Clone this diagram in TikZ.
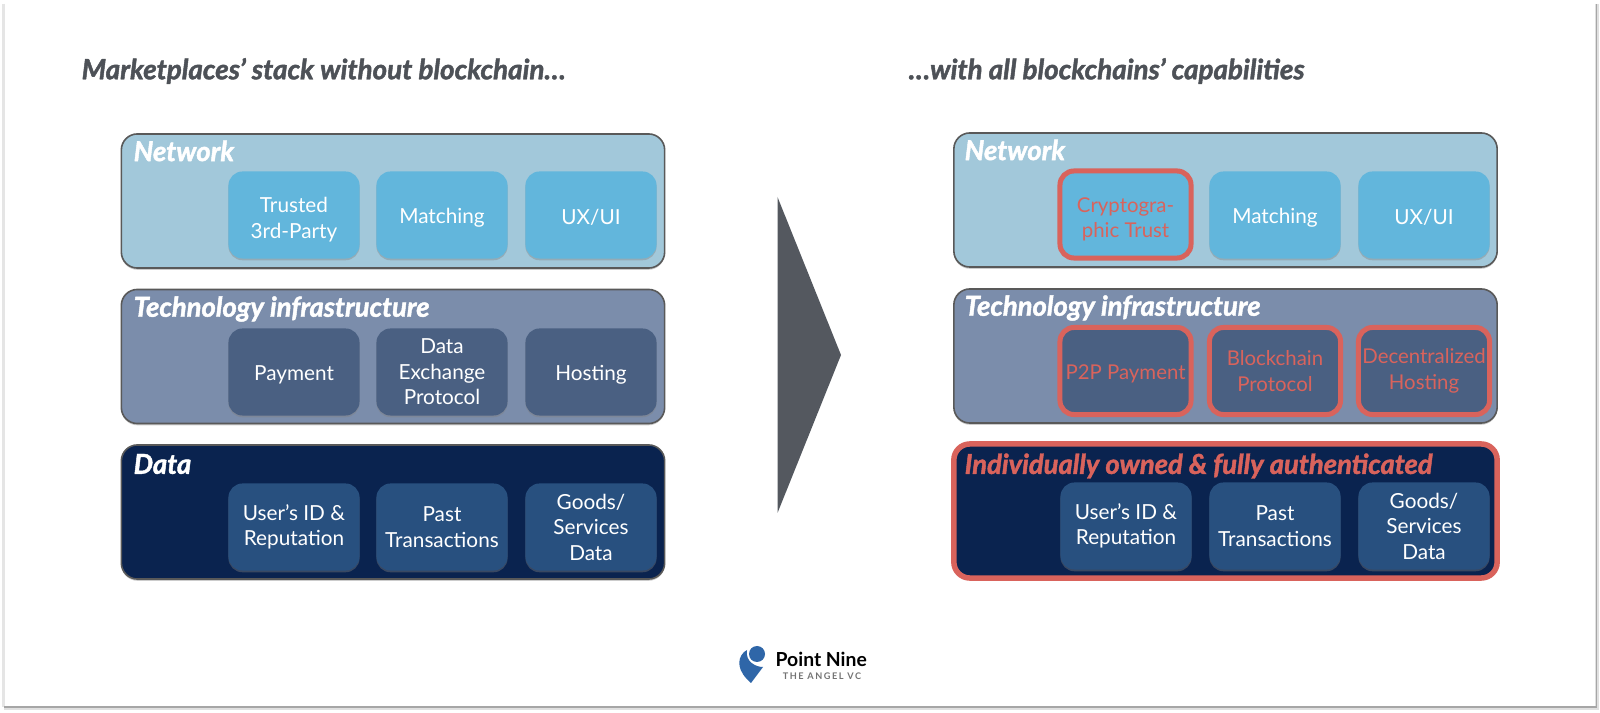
\documentclass[tikz,border=0pt]{standalone}
\usepackage{fontspec}
\setmainfont{Lato}
\newfontfamily\headfont[ItalicFeatures={FakeBold=1.6},BoldItalicFeatures={FakeBold=1.6}]{Lato}
\usetikzlibrary{shadows}
\definecolor{netpanel}{HTML}{A2C8DA}
\definecolor{netbox}{HTML}{62B6DC}
\definecolor{techpanel}{HTML}{7B8DAB}
\definecolor{techbox}{HTML}{4A6082}
\definecolor{datapanel}{HTML}{0A234F}
\definecolor{databox}{HTML}{28507F}
\definecolor{redline}{HTML}{D9635C}
\definecolor{slate}{HTML}{4D5157}
\definecolor{arrowgrey}{HTML}{54585F}
\definecolor{pinblue}{HTML}{2F66A8}
\newcommand{\liftline}{\rule{0pt}{7pt}}
\begin{document}
\begin{tikzpicture}
            [x=.01cm,y=-.01cm,
            softshadow/.style={drop shadow={shadow xshift=0pt,shadow yshift=-.5pt,opacity=.4}},
            panel/.style={rounded corners=.16cm,draw=black!65,line width=.16mm,minimum width=5.43cm,minimum height=1.34cm,softshadow},
            redpanel/.style={panel,draw=redline,line width=.55mm},
            cell/.style={rounded corners=.14cm,minimum width=1.31cm,minimum height=.87cm,inner sep=0pt,align=center,text=white,
                font=\fontsize{5.9}{7.25}\selectfont,softshadow,execute at begin node={\rule{0pt}{5.8pt}}},
            redcell/.style={cell,draw=redline,line width=.5mm,text=redline,font=\fontsize{5.8}{7.25}\selectfont},
            heading/.style={anchor=west,inner sep=0pt,text=white,font=\fontsize{7.8}{9}\headfont\bfseries\itshape},
            title/.style={anchor=west,inner sep=0pt,text=slate,font=\fontsize{7.9}{9}\headfont\bfseries\itshape}]
            \useasboundingbox (0,0) rectangle (1600,713);
            \fill[white] (0,0) rectangle (1600,713);
            \draw[black!10,line width=.3mm] (3.5,4) -- (3.5,707);
            \draw[black!12,line width=.4mm] (1597,4) -- (1597,708) -- (3.5,708);
            \draw[black!35,line width=.12mm] (1596.5,4) -- (1596.5,707) -- (3.5,707);
            % titles
            \node[title] (lefttitle) at (81,71) {Marketplaces’ stack without blockchain…};
            \node[title] (righttitle) at (908,71) {…with all blockchains’ capabilities};
            % left stack
            \node[panel,fill=netpanel] (lnet) at (393,201) {};
            \node[panel,fill=techpanel] (ltech) at (393,356.5) {};
            \node[panel,fill=datapanel] (ldata) at (393,512) {};
            \node[heading] (lnethead) at (133,151) {Network};
            \node[heading] (ltechhead) at (133,309) {Technology infrastructure};
            \node[heading] (ldatahead) at (133,464) {Data};
            \node[cell,fill=netbox] (l1) at (294,215) {\liftline Trusted\\3rd-Party};
            \node[cell,fill=netbox] (l2) at (442,215) {Matching};
            \node[cell,fill=netbox] (l3) at (591,215) {UX/UI};
            \node[cell,fill=techbox] (l4) at (294,372) {Payment};
            \node[cell,fill=techbox] (l5) at (442,372) {Data\\Exchange\\Protocol};
            \node[cell,fill=techbox] (l6) at (591,372) {Hosting};
            \node[cell,fill=databox] (l7) at (294,527) {User’s ID \&\\Reputation};
            \node[cell,fill=databox] (l8) at (442,527) {Past\\Transactions};
            \node[cell,fill=databox] (l9) at (591,527) {Goods/\\Services\\Data};
            % the big arrow
            \fill[arrowgrey] (777.5,197) -- (841,355) -- (777.5,513) -- cycle;
            % right stack
            \node[panel,fill=netpanel] (rnet) at (1225.5,200) {};
            \node[panel,fill=techpanel] (rtech) at (1225.5,356) {};
            \node[redpanel,fill=datapanel] (rdata) at (1225.5,511) {};
            \node[heading] (rnethead) at (964,150) {Network};
            \node[heading] (rtechhead) at (964,308) {Technology infrastructure};
            \node[heading,text=redline] (rdatahead) at (964,466) {Individually owned \& fully authenticated};
            \node[redcell,fill=netbox] (r1) at (1125.5,214.5) {\liftline Cryptogra-\\phic Trust};
            \node[cell,fill=netbox] (r2) at (1275,215) {Matching};
            \node[cell,fill=netbox] (r3) at (1424,215) {UX/UI};
            \node[redcell,fill=techbox] (r4) at (1125.5,371) {P2P Payment};
            \node[redcell,fill=techbox] (r5) at (1275,371) {Blockchain\\Protocol};
            \node[redcell,fill=techbox] (r6) at (1424,371) {Decentralized\\Hosting};
            \node[cell,fill=databox] (r7) at (1126,526) {User’s ID \&\\Reputation};
            \node[cell,fill=databox] (r8) at (1275,526) {Past\\Transactions};
            \node[cell,fill=databox] (r9) at (1424,526) {Goods/\\Services\\Data};
            % logo
            \fill[pinblue] (757,654) circle (8);
            \fill[pinblue] (744,652) .. controls (736,660) and (738,672) .. (751,683) -- (763,667)
                .. controls (756,667) and (745,662) .. (747,650) -- cycle;
            \node[inner sep=0pt,anchor=west,font=\fontsize{5.5}{7}\selectfont\bfseries] (logoname) at (775,659) {Point Nine};
            \node[inner sep=0pt,text=black!55,font=\fontsize{2.6}{3}\selectfont\bfseries] (logotag) at (822,676) {T\,H\,E\, A\,N\,G\,E\,L\, V\,C};
        \end{tikzpicture}
\end{document}
